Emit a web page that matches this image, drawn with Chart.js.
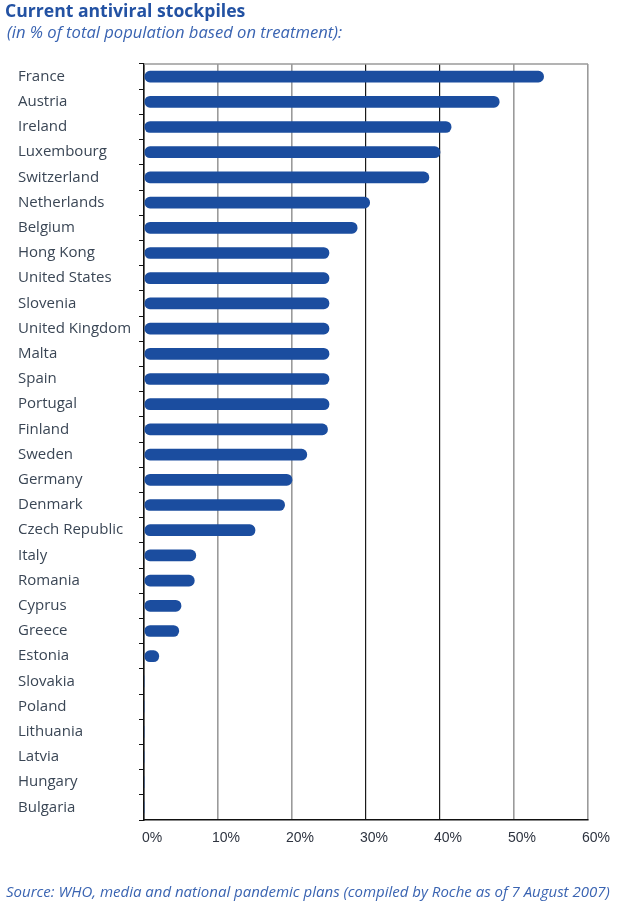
<!DOCTYPE html>
<html>
<head>
<meta charset="utf-8">
<title>Current antiviral stockpiles</title>
<script src="https://cdn.jsdelivr.net/npm/chart.js@4.4.1/dist/chart.umd.min.js"></script>
<style>
  body { margin: 0; background: #fff; }
  #wrap { position: relative; width: 626px; height: 905px; }
  canvas { position: absolute; left: 0; top: 0; }
  .txt { position: absolute; font-family: "Open Sans", sans-serif; white-space: nowrap; }
  #title { left: 5px; top: -2px; font-size: 17.6px; font-weight: bold; color: #2352a3; }
  #subtitle { left: 7px; top: 20px; font-size: 16.6px; font-style: italic; color: #3a64b2; }
  #source { left: 6px; top: 881px; font-size: 15px; font-style: italic; color: #3a64b2; }
</style>
</head>
<body>
<div id="wrap">
  <canvas id="chart" width="626" height="905"></canvas>
  <div class="txt" id="title">Current antiviral stockpiles</div>
  <div class="txt" id="subtitle">(in % of total population based on treatment):</div>
  <div class="txt" id="source">Source: WHO, media and national pandemic plans (compiled by Roche as of 7 August 2007)</div>
</div>
<script>
// countries, top to bottom
var countries = ["France", "Austria", "Ireland", "Luxembourg", "Switzerland", "Netherlands",
  "Belgium", "Hong Kong", "United States", "Slovenia", "United Kingdom", "Malta", "Spain",
  "Portugal", "Finland", "Sweden", "Germany", "Denmark", "Czech Republic", "Italy", "Romania",
  "Cyprus", "Greece", "Estonia", "Slovakia", "Poland", "Lithuania", "Latvia", "Hungary", "Bulgaria"];

// stockpile, % of population
var stockpile = [54, 48, 41.5, 40, 38.5, 30.5, 28.8, 25, 25, 25, 25, 25, 25, 25, 24.8, 22,
  20, 19, 15, 7, 6.8, 5, 4.7, 2, 0, 0, 0, 0, 0, 0];

var xTicks = [0, 10, 20, 30, 40, 50, 60];

// top border of the plot
var topBorder = {
  id: "topBorder",
  beforeDatasetsDraw: function(chart) {
    var a = chart.chartArea, c = chart.ctx;
    c.save();
    c.strokeStyle = "#9a9a9a";
    c.lineWidth = 1.5;
    c.beginPath();
    c.moveTo(a.left, a.top);
    c.lineTo(a.right, a.top);
    c.stroke();
    c.restore();
  }
};

new Chart(document.getElementById("chart"), {
  type: "bar",
  data: {
    labels: countries,
    datasets: [{
      data: stockpile,
      backgroundColor: "#1b4d9f",
      barThickness: 11,
      borderRadius: 6,
      borderSkipped: false
    }]
  },
  options: {
    indexAxis: "y",
    responsive: false,
    animation: false,
    layout: { padding: { left: 18, right: 38, top: 64, bottom: 45 } },
    plugins: { legend: { display: false }, tooltip: { enabled: false } },
    scales: {
      x: {
        min: 0, max: 60,
        afterBuildTicks: function(s) { s.ticks = xTicks.map(function(v) { return { value: v }; }); },
        afterFit: function(s) { s.height = 40; },
        border: { color: "#111", width: 1.5 },
        grid: {
          drawTicks: false,
          color: function(ctx) {
            var v = ctx.tick ? ctx.tick.value : 0;
            return (v === 30 || v === 40) ? "#1a1a1a" : "#9a9a9a";
          },
          lineWidth: function(ctx) {
            var v = ctx.tick ? ctx.tick.value : 0;
            return (v === 30 || v === 40) ? 1.2 : 1.6;
          }
        },
        ticks: {
          padding: 10,
          labelOffset: 8,
          color: "#2e3440",
          font: { family: "Liberation Sans", size: 14 },
          callback: function(v) { return v + "%"; }
        }
      },
      y: {
        afterFit: function(s) { s.width = 126; },
        border: { color: "#111", width: 1.5 },
        grid: { drawOnChartArea: false, drawTicks: true, tickLength: 5, color: "#111", offset: true },
        ticks: {
          crossAlign: "far",
          color: "#3a4655",
          font: { family: "Open Sans", size: 15 }
        }
      }
    }
  },
  plugins: [topBorder]
});
</script>
</body>
</html>
